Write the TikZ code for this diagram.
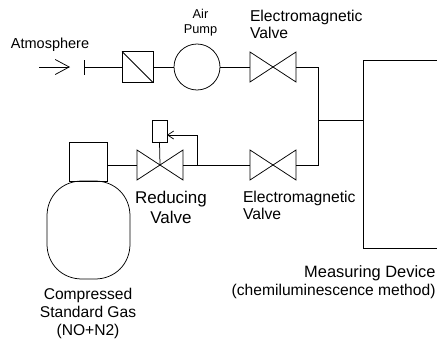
\documentclass[tikz,border=0pt]{standalone}
\usepackage{fontspec}
\setmainfont{Liberation Sans}
\usetikzlibrary{arrows.meta}
\tikzset{
  x=1pt,y=-1pt,
  pipe/.style={draw=black,line width=0.75pt},
  box/.style={draw=black,line width=0.75pt,inner sep=0,outer sep=0,fill=none},
  valvebox/.style={inner sep=0,outer sep=0,minimum width=46pt,minimum height=30pt},
  lbl/.style={inner sep=0,outer sep=0,align=center,font=\fontsize{15.6}{18.3}\selectfont},
}
\newcommand{\valvedraw}[1]{\draw[pipe,line join=miter] (#1.south west) -- (#1.north east) -- (#1.south east) -- (#1.north west) -- cycle;}
\begin{document}
\begin{tikzpicture}
\useasboundingbox (0,0) rectangle (437,340);
% nodes
\coordinate (arrA) at (39,67);
\coordinate (arrB) at (70,67);
\coordinate (tick) at (84,67);
\coordinate (tickT) at (84,60);
\coordinate (tickB) at (84,75);
\node[box,minimum width=31pt,minimum height=31pt] (filter) at (137.5,67) {};
\draw[pipe] (filter.north west) -- (filter.south east);
\node[box,circle,minimum size=46pt] (pump) at (197,67) {};
\node[valvebox] (v1) at (273,67) {};
\node[valvebox] (v2) at (273,165) {};
\node[valvebox] (rv) at (160,165) {};
\valvedraw{v1}\valvedraw{v2}\valvedraw{rv}
\node[box,minimum width=15pt,minimum height=22pt] (reg) at (159.5,131) {};
\node[box,minimum width=38pt,minimum height=39pt] (cap) at (88,161.5) {};
\coordinate (junc) at (318,120);
\coordinate (devIn) at (363,120);
\coordinate (devTL) at (363,60);
\coordinate (devTR) at (437,60);
\coordinate (devBL) at (363,248);
\coordinate (devBR) at (437,248);
\coordinate (fb) at (197,165);
\coordinate (fbT) at (197,135);
\coordinate (rvC) at (160,165);
% connectors
\draw[pipe,-{Straight Barb[length=14pt,width=15pt]}] (arrA) -- (arrB);
\draw[pipe] (tickT) -- (tickB);
\draw[pipe] (tick) -- (filter.west);
\draw[pipe] (filter.east) -- (pump.west);
\draw[pipe] (pump.east) -- (v1.west);
\draw[pipe] (cap.east |- rv.west) -- (rv.west);
\draw[pipe] (rv.east) -- (v2.west);
\draw[pipe] (v1.east) -| (junc);
\draw[pipe] (v2.east) -| (junc);
\draw[pipe] (junc) -- (devIn);
\draw[pipe] (devTR) -- (devTL) -- (devBL) -- (devBR);
\draw[pipe] (reg.south) -- (rvC);
\draw[pipe,-{Straight Barb[length=6pt,width=8pt]}] (fb) -- (fbT) -- (reg.east |- fbT);
% bottle
\draw[pipe] (47,216) .. controls (47,196) and (62,181) .. (82,181) -- (95,181) .. controls (115,181) and (130,196) .. (130,216) -- (130,244) .. controls (130,264) and (115,279) .. (95,279) -- (82,279) .. controls (62,279) and (47,264) .. (47,244) -- cycle;
% labels
\node[lbl,font=\fontsize{14.5}{17}\selectfont] (tA) at (50,45) {Atmosphere};
\node[lbl,font=\fontsize{12.8}{15}\selectfont] (tP) at (200.5,22.5) {Air\\Pump};
\node[lbl,align=left,font=\fontsize{15.7}{17}\selectfont,anchor=west] (tV1) at (250,24.5) {Electromagnetic\\Valve};
\node[lbl,align=left,font=\fontsize{15.7}{17.5}\selectfont,anchor=west] (tV2) at (243,205.5) {Electromagnetic\\Valve};
\node[lbl,font=\fontsize{17}{19.5}\selectfont] (tR) at (171,207.5) {Reducing\\Valve};
\node[lbl] (tC) at (88,313.5) {Compressed\\Standard Gas\\(NO+N2)};
\node[lbl,anchor=east,align=right] (tM) at (435.5,282) {{\fontsize{16.4}{18.3}\selectfont Measuring Device}\\(chemiluminescence method)};
\end{tikzpicture}
\end{document}
